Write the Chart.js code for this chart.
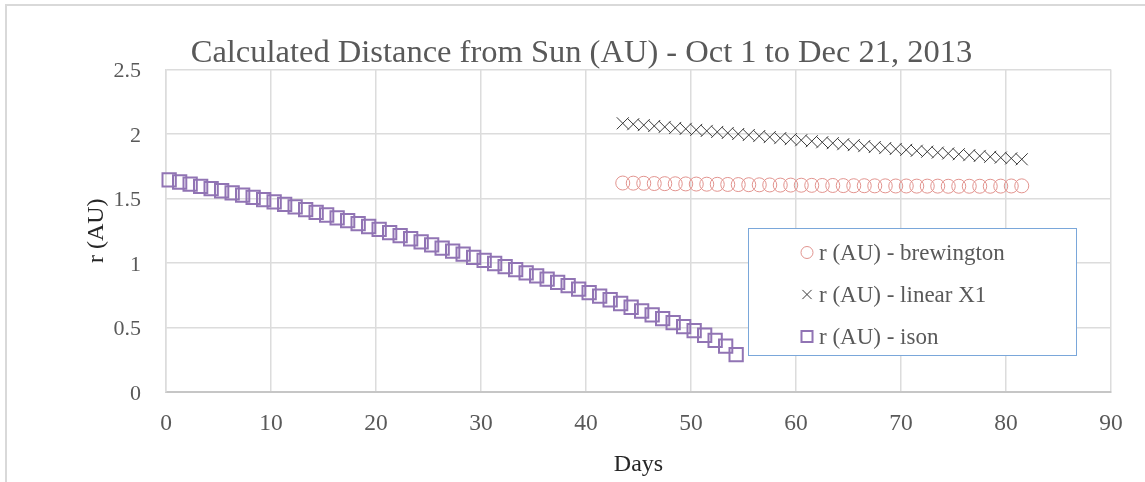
<!DOCTYPE html>
<html>
<head>
<meta charset="utf-8">
<script src="https://cdn.jsdelivr.net/npm/chart.js@4/dist/chart.umd.min.js"></script>
<style>
  body { margin: 0; background: #fff; }
  .wrap { position: relative; width: 1145px; height: 482px; overflow: hidden; }
  .frame { position: absolute; left: 5px; top: 4px; width: 1300px; height: 600px;
           border-left: 2px solid #d9d9d9; border-top: 2px solid #d9d9d9; }
  canvas { position: absolute; left: 0; top: 0; }
</style>
</head>
<body>
<div class="wrap">
  <div class="frame"></div>
  <canvas id="myChart" width="1145" height="482"></canvas>
</div>
<script>
// days since Oct 1
const isonDays = [0.3, 1.3, 2.3, 3.3, 4.3, 5.3, 6.3, 7.3, 8.3, 9.3,
  10.3, 11.3, 12.3, 13.3, 14.3, 15.3, 16.3, 17.3, 18.3, 19.3,
  20.3, 21.3, 22.3, 23.3, 24.3, 25.3, 26.3, 27.3, 28.3, 29.3,
  30.3, 31.3, 32.3, 33.3, 34.3, 35.3, 36.3, 37.3, 38.3, 39.3,
  40.3, 41.3, 42.3, 43.3, 44.3, 45.3, 46.3, 47.3, 48.3, 49.3,
  50.3, 51.3, 52.3, 53.3, 54.3]
const isonR = [1.645, 1.628, 1.611, 1.594, 1.577, 1.560, 1.543, 1.526, 1.509, 1.492,
  1.474, 1.455, 1.435, 1.414, 1.393, 1.372, 1.350, 1.328, 1.306, 1.283,
  1.260, 1.236, 1.212, 1.188, 1.164, 1.140, 1.116, 1.092, 1.068, 1.044,
  1.020, 0.996, 0.972, 0.948, 0.924, 0.900, 0.875, 0.850, 0.824, 0.798,
  0.771, 0.743, 0.715, 0.686, 0.657, 0.628, 0.598, 0.568, 0.537, 0.506,
  0.475, 0.440, 0.400, 0.355, 0.290]

const lateDays = [43.5, 44.5, 45.5, 46.5, 47.5, 48.5, 49.5, 50.5, 51.5, 52.5,
  53.5, 54.5, 55.5, 56.5, 57.5, 58.5, 59.5, 60.5, 61.5, 62.5,
  63.5, 64.5, 65.5, 66.5, 67.5, 68.5, 69.5, 70.5, 71.5, 72.5,
  73.5, 74.5, 75.5, 76.5, 77.5, 78.5, 79.5, 80.5, 81.5]
const brewingtonR = [1.620, 1.619, 1.618, 1.616, 1.615, 1.614, 1.613, 1.612, 1.611, 1.610,
  1.609, 1.608, 1.607, 1.606, 1.605, 1.604, 1.604, 1.603, 1.602, 1.601,
  1.601, 1.600, 1.599, 1.599, 1.598, 1.598, 1.597, 1.597, 1.596, 1.596,
  1.596, 1.595, 1.595, 1.595, 1.595, 1.595, 1.596, 1.597, 1.598]
const linearR = [2.083, 2.076, 2.069, 2.062, 2.055, 2.047, 2.040, 2.032, 2.024, 2.016,
  2.008, 2.000, 1.992, 1.984, 1.976, 1.968, 1.960, 1.952, 1.944, 1.936,
  1.929, 1.921, 1.914, 1.906, 1.899, 1.891, 1.884, 1.877, 1.870, 1.863,
  1.856, 1.849, 1.843, 1.836, 1.830, 1.823, 1.817, 1.811, 1.804]

const seriesNames = ['r (AU) - brewington', 'r (AU) - linear X1', 'r (AU) - ison']

const FONT = "'Liberation Serif', serif"
const GREY = '#595959'

const pts = (xs, ys) => xs.map((x, i) => ({x: x, y: ys[i]}))

// legend box sits inside the plot, so draw it by hand
const boxLegend = {
  id: 'boxLegend',
  afterDraw(chart) {
    const ctx = chart.ctx
    const left = 748.5, top = 228.5, w = 328, h = 127
    ctx.save()
    ctx.fillStyle = '#fff'
    ctx.fillRect(left, top, w, h)
    ctx.strokeStyle = '#7aa7da'
    ctx.lineWidth = 1
    ctx.strokeRect(left, top, w, h)
    chart.data.datasets.forEach((ds, i) => {
      const y = top + 24 + i * 42
      ctx.strokeStyle = ds.borderColor
      ctx.fillStyle = 'rgba(0,0,0,0)'
      ctx.lineWidth = ds.legendBorder
      Chart.helpers.drawPoint(ctx, {pointStyle: ds.pointStyle, radius: ds.legendRadius, rotation: 0, borderWidth: ds.legendBorder}, 807, y)
      ctx.fillStyle = GREY
      ctx.font = '23px ' + FONT
      ctx.textBaseline = 'middle'
      ctx.textAlign = 'left'
      ctx.fillText(ds.label, 819, y + 1)
    })
    ctx.restore()
  }
}

const chartRef = document.getElementById('myChart').getContext('2d')

new Chart(chartRef, {
  type: 'scatter',
  data: {
    datasets: [
      {
        label: seriesNames[0],
        data: pts(lateDays, brewingtonR),
        pointStyle: 'circle',
        pointRadius: 7,
        borderWidth: 1,
        borderColor: '#e2948f',
        backgroundColor: 'rgba(0,0,0,0)',
        legendRadius: 6, legendBorder: 1,
        clip: false
      },
      {
        label: seriesNames[1],
        data: pts(lateDays, linearR),
        pointStyle: 'crossRot',
        pointRadius: 8.5,
        borderWidth: 1,
        borderColor: '#3a3a3a',
        backgroundColor: 'rgba(0,0,0,0)',
        legendRadius: 6.5, legendBorder: 1,
        clip: false
      },
      {
        label: seriesNames[2],
        data: pts(isonDays, isonR),
        pointStyle: 'rect',
        pointRadius: 9.4,
        borderWidth: 2,
        borderColor: '#9174b4',
        backgroundColor: 'rgba(0,0,0,0)',
        legendRadius: 7.8, legendBorder: 2,
        clip: false
      }
    ]
  },
  options: {
    responsive: false,
    animation: false,
    devicePixelRatio: 1,
    layout: {padding: {left: 18, right: 0, top: 0, bottom: 0}},
    plugins: {
      legend: {display: false},
      tooltip: {enabled: false},
      title: {
        display: true,
        text: 'Calculated Distance from Sun (AU) - Oct 1 to Dec 21, 2013',
        color: GREY,
        font: {family: FONT, size: 32.5, weight: 'normal', lineHeight: 1},
        padding: {top: 37, bottom: 0}
      }
    },
    scales: {
      x: {
        type: 'linear',
        min: 0, max: 90,
        ticks: {stepSize: 10, color: GREY, font: {family: FONT, size: 23.5}, padding: 18},
        grid: {color: '#dcdcdc', lineWidth: 1.5, drawTicks: false},
        border: {color: '#c6c6c6', width: 2},
        title: {display: true, text: 'Days', color: '#262626',
                font: {family: FONT, size: 24}, padding: {top: 0, bottom: 3}},
        afterFit: s => { s.height = 90 }
      },
      y: {
        type: 'linear',
        min: 0, max: 2.5,
        ticks: {stepSize: 0.5, color: GREY, font: {family: FONT, size: 22}, padding: 25,
                labelOffset: 2, callback: v => String(v)},
        grid: {color: '#dcdcdc', lineWidth: 1.5, drawTicks: false},
        border: {color: '#dcdcdc', width: 1.5},
        title: {display: true, text: 'r (AU)', color: '#262626',
                font: {family: FONT, size: 24}, padding: {top: 64, bottom: 0}},
        afterFit: s => { s.width = 148 }
      },
      pad: {
        position: 'right',
        display: true,
        grid: {display: false},
        border: {display: false},
        ticks: {display: false},
        afterFit: s => { s.width = 34 }
      }
    }
  },
  plugins: [boxLegend]
})
</script>
</body>
</html>
